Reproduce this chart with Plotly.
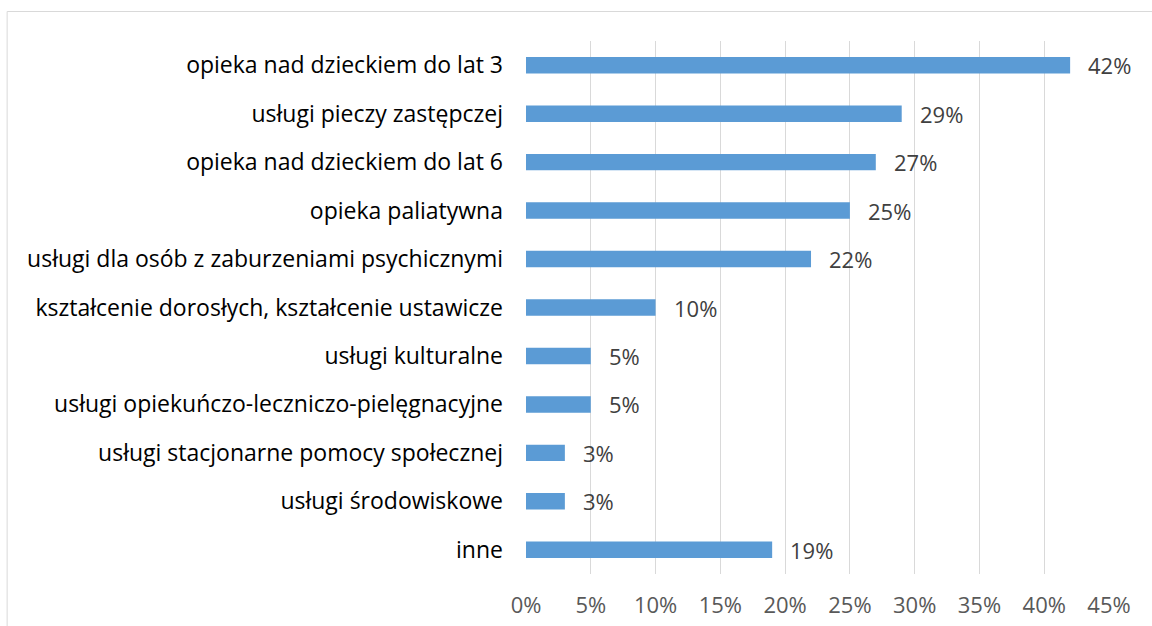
import plotly.graph_objects as go

categories = [
    "opieka nad dzieckiem do lat 3",
    "usługi pieczy zastępczej",
    "opieka nad dzieckiem do lat 6",
    "opieka paliatywna",
    "usługi dla osób z zaburzeniami psychicznymi",
    "kształcenie dorosłych, kształcenie ustawicze",
    "usługi kulturalne",
    "usługi opiekuńczo-leczniczo-pielęgnacyjne",
    "usługi stacjonarne pomocy społecznej",
    "usługi środowiskowe",
    "inne",
]
values = [42, 29, 27, 25, 22, 10, 5, 5, 3, 3, 19]
tick_vals = [0, 5, 10, 15, 20, 25, 30, 35, 40, 45]
tick_text = [f"{t}%" for t in tick_vals]

FONT = "Open Sans"

fig = go.Figure(
    go.Bar(
        x=values,
        y=categories,
        orientation="h",
        marker=dict(color="#5b9bd5", line=dict(color="#5b9bd5", width=0)),
        width=0.34,
        hoverinfo="skip",
    )
)

# value labels to the right of each bar
for c, v in zip(categories, values):
    fig.add_annotation(
        x=v, y=c, text=f"{v}%", showarrow=False,
        xanchor="left", xshift=16,
        font=dict(family=FONT, size=22, color="#404040"),
    )

# chart frame
fig.add_shape(
    type="rect", xref="paper", yref="paper",
    x0=-0.890, x1=1.2, y0=-0.3, y1=1.0553,
    line=dict(color="#d9d9d9", width=1), fillcolor="rgba(0,0,0,0)",
)

fig.update_layout(
    width=1152, height=626,
    margin=dict(l=526, r=43, t=41, b=52),
    paper_bgcolor="white", plot_bgcolor="white",
    showlegend=False,
    xaxis=dict(
        range=[0, 45], tickvals=tick_vals, ticktext=tick_text,
        showgrid=True, gridcolor="#d9d9d9", gridwidth=1,
        zeroline=False, showline=False, ticks="",
        tickfont=dict(family=FONT, size=22, color="#595959"),
        ticklabelstandoff=16,
        automargin=False,
    ),
    yaxis=dict(
        categoryorder="array", categoryarray=categories,
        autorange="reversed",
        showgrid=False, zeroline=False, showline=False, ticks="",
        tickfont=dict(family=FONT, size=23, color="#000000"),
        ticklabelstandoff=22,
        automargin=False,
    ),
)

fig.write_html("out.html")
